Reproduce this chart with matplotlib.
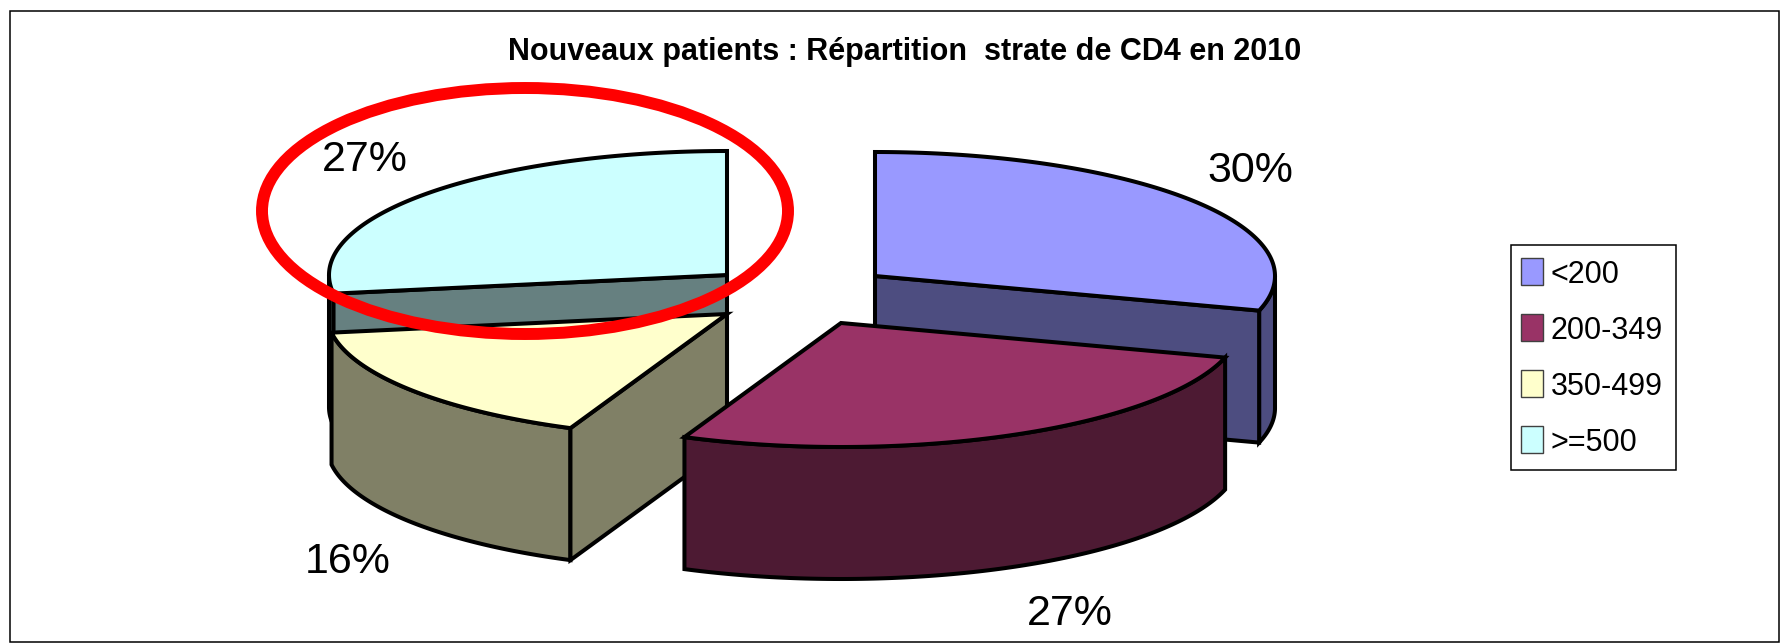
# -*- coding: utf-8 -*-
"""Exploded pseudo-3D pie: new patients by CD4 stratum, 2010."""

import numpy as np
import matplotlib
matplotlib.use('Agg')
import matplotlib.pyplot as plt
from matplotlib.patches import Ellipse, Polygon, Rectangle

plt.rcParams['font.family'] = ['Liberation Sans', 'DejaVu Sans']

# data
categories = ['<200', '200-349', '350-499', '>=500']
shares = [29.5, 26.9, 16.2, 27.4]
title = 'Nouveaux patients : Répartition  strate de CD4 en 2010'

# styles / layout (pixel coordinates of the picture)
top_colors = ['#9999FF', '#993366', '#FFFFCC', '#CCFFFF']
side_colors = ['#4D4D80', '#4D1A33', '#808066', '#668080']
apexes = [(875, 276), (841, 323), (727, 314), (727, 275)]
radii_x = [400, 400, 400, 398]
label_pos = [(1250, 171), (1070, 614), (348, 562), (365, 160)]
RY = 124
DEPTH = 132
LW = 2.9

fig = plt.figure(figsize=(17.89, 6.43), dpi=100)
ax = fig.add_axes([0, 0, 1, 1])
ax.set_xlim(0, 1789)
ax.set_ylim(643, 0)
ax.axis('off')

# outer frame
ax.add_patch(Rectangle((9.5, 10.5), 1769, 631, fc='white', ec='black', lw=1.1, zorder=0))

# slice angles, clockwise from 12 o'clock
edges = np.concatenate([[0], np.cumsum(shares)]) / np.sum(shares) * 360
starts = edges[:-1]
ends = edges[1:]


def rim(apex, rx, a0, a1):
    t = np.radians(np.linspace(a0, a1, 120))
    return np.column_stack([apex[0] + rx * np.sin(t), apex[1] - RY * np.cos(t)])


def extrude(pts):
    # band between a line on the top face and the same line DEPTH lower
    return np.vstack([pts, pts[::-1] + [0, DEPTH]])


def draw_face(pts, color, z):
    ax.add_patch(Polygon(pts, closed=True, fc=color, ec='black', lw=LW,
                         joinstyle='miter', zorder=z))


# painter's order: back slices first, maroon last
for z, i in enumerate([3, 2, 0, 1]):
    apex = np.array(apexes[i], dtype=float)
    rx = radii_x[i]
    base = 10 + z * 10
    arc = rim(apex, rx, starts[i], ends[i])

    # outer wall, only the part facing the viewer (90..270 deg)
    lo, hi = max(starts[i], 90), min(ends[i], 270)
    if hi > lo:
        draw_face(extrude(rim(apex, rx, lo, hi)), side_colors[i], base)

    # radial walls that face the viewer
    if i == 0:
        draw_face(extrude(np.array([apex, arc[-1]])), side_colors[i], base + 1)
    if i in (2, 3):
        draw_face(extrude(np.array([apex, arc[0]])), side_colors[i], base + 1)

    draw_face(np.vstack([apex, arc]), top_colors[i], base + 2)

# percentage labels
for share, (x, y) in zip(shares, label_pos):
    ax.text(x, y, f'{share:.0f}%', fontsize=31, ha='center', va='center',
            color='black', zorder=60)

# hand-drawn highlight around the >=500 slice
ax.add_patch(Ellipse((525, 211), 526, 246, fc='none', ec='#FF0000', lw=8.6, zorder=70))

ax.text(905, 52, title, fontsize=22, fontweight='bold', ha='center', va='center', zorder=60)

# legend
ax.add_patch(Rectangle((1511, 245), 165, 225, fc='white', ec='black', lw=1.1, zorder=50))
for k, (name, color) in enumerate(zip(categories, top_colors)):
    y = 258 + k * 56
    ax.add_patch(Rectangle((1521, y), 22, 27, fc=color, ec='#404040', lw=1.0, zorder=51))
    ax.text(1551, y + 17, name, fontsize=22, ha='left', va='center', zorder=52)

fig.savefig('out.png', dpi=100)
plt.close(fig)
